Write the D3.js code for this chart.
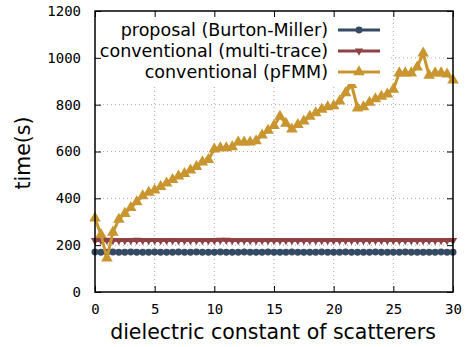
<!DOCTYPE html>
<html>
<head>
<meta charset="utf-8">
<script src="https://cdn.jsdelivr.net/npm/d3@7"></script>
<style>
  body { margin: 0; background: #fff; }
  svg text { fill: #000; }
</style>
</head>
<body>
<div id="chart"></div>
<script>
// dielectric constant (x) sampled every 0.5
let xValues = [0, 0.5, 1, 1.5, 2, 2.5, 3, 3.5, 4, 4.5, 5, 5.5, 6, 6.5, 7, 7.5, 8, 8.5, 9, 9.5,
               10, 10.5, 11, 11.5, 12, 12.5, 13, 13.5, 14, 14.5, 15, 15.5, 16, 16.5, 17, 17.5, 18, 18.5, 19, 19.5,
               20, 20.5, 21, 21.5, 22, 22.5, 23, 23.5, 24, 24.5, 25, 25.5, 26, 26.5, 27, 27.5, 28, 28.5, 29, 29.5, 30];

let burtonMiller = [171, 170, 170, 171, 170, 170, 171, 170, 170, 170, 171, 170, 170, 170, 171, 170, 170, 171, 170, 170,
                    170, 171, 170, 170, 170, 171, 170, 170, 170, 171, 170, 170, 170, 171, 170, 170, 170, 170, 171, 170,
                    170, 170, 171, 170, 170, 170, 170, 171, 170, 170, 170, 170, 171, 170, 170, 170, 170, 170, 171, 170, 170];

let multiTrace = [220, 220, 221, 220, 220, 220, 220, 221, 220, 220, 220, 220, 220, 220, 220, 220, 220, 220, 220, 220,
                  220, 221, 221, 220, 220, 220, 220, 220, 220, 220, 220, 220, 220, 220, 220, 220, 220, 220, 220, 220,
                  220, 220, 220, 220, 220, 220, 220, 220, 220, 220, 220, 220, 220, 220, 220, 220, 220, 220, 220, 220, 220];

let pFMM = [315, 245, 145, 255, 310, 335, 360, 385, 410, 425, 435, 450, 465, 480, 495, 505, 520, 535, 555, 565,
            610, 615, 615, 620, 640, 640, 640, 645, 670, 690, 710, 750, 720, 695, 715, 730, 750, 765, 780, 790,
            795, 815, 850, 885, 785, 790, 810, 825, 835, 845, 865, 935, 935, 935, 960, 1020, 925, 935, 935, 930, 905];

let seriesNames = ["proposal (Burton-Miller)", "conventional (multi-trace)", "conventional (pFMM)"];
let seriesColors = ["#354a63", "#8f4246", "#c9952f"];
let xTicks = [0, 5, 10, 15, 20, 25, 30];
let yTicks = [0, 200, 400, 600, 800, 1000, 1200];

let series = [
    {name: seriesNames[0], values: burtonMiller, color: seriesColors[0], symbol: d3.symbolCircle, size: 38, rotate: 0},
    {name: seriesNames[1], values: multiTrace, color: seriesColors[1], symbol: d3.symbolTriangle, size: 30, rotate: 180},
    {name: seriesNames[2], values: pFMM, color: seriesColors[2], symbol: d3.symbolTriangle, size: 58, rotate: 0}
];

let width = 474, height = 347;
let margin = {top: 11, right: 21, bottom: 55, left: 95};
let monoFont = "'DejaVu Sans Mono', monospace";
let sansFont = "'DejaVu Sans', sans-serif";

let svg = d3.select("#chart").append("svg")
    .attr("width", width)
    .attr("height", height);

let x = d3.scaleLinear().domain([0, 30]).range([margin.left, width - margin.right]);
let y = d3.scaleLinear().domain([0, 1200]).range([height - margin.bottom, margin.top]);

// grid
let grid = svg.append("g")
    .attr("stroke", "#aaa")
    .attr("stroke-width", 1)
    .attr("stroke-dasharray", "1,3");
grid.selectAll("line.gx")
    .data(xTicks.slice(1, -1))
    .enter().append("line")
    .attr("x1", d => x(d)).attr("x2", d => x(d))
    .attr("y1", y(0)).attr("y2", y(1200));
grid.selectAll("line.gy")
    .data(yTicks.slice(1, -1))
    .enter().append("line")
    .attr("y1", d => y(d)).attr("y2", d => y(d))
    .attr("x1", x(0)).attr("x2", x(30));

// series
let line = d3.line()
    .x((d, i) => x(xValues[i]))
    .y(d => y(d));

series.forEach(function(s){
    let g = svg.append("g");
    g.append("path")
        .attr("d", line(s.values))
        .attr("fill", "none")
        .attr("stroke", s.color)
        .attr("stroke-width", 3);
    g.selectAll("path.pt")
        .data(s.values)
        .enter().append("path")
        .attr("class", "pt")
        .attr("d", d3.symbol().type(s.symbol).size(s.size))
        .attr("fill", s.color)
        .attr("transform", (d, i) => "translate(" + x(xValues[i]) + "," + y(d) + ") rotate(" + s.rotate + ")");
});

// opaque key
let legend = svg.append("g");
legend.append("rect")
    .attr("x", x(0) + 1).attr("y", y(1200) + 1)
    .attr("width", 292).attr("height", 72)
    .attr("fill", "#fff");
series.forEach(function(s, i){
    let ly = 30 + i * 21;
    legend.append("text")
        .attr("x", 328).attr("y", ly)
        .attr("dy", "0.35em")
        .attr("text-anchor", "end")
        .style("font-family", sansFont)
        .style("font-size", "17.5px")
        .text(s.name);
    legend.append("line")
        .attr("x1", 338).attr("x2", 380)
        .attr("y1", ly).attr("y2", ly)
        .attr("stroke", s.color)
        .attr("stroke-width", 3);
    legend.append("path")
        .attr("d", d3.symbol().type(s.symbol).size(s.size))
        .attr("fill", s.color)
        .attr("transform", "translate(359," + ly + ") rotate(" + s.rotate + ")");
});

// axes with mirrored inward ticks
let tickFont = function(g){
    g.attr("font-family", null).attr("font-size", null);
    g.selectAll("text")
        .style("font-family", monoFont)
        .style("font-size", "14px");
    g.select(".domain").remove();
    g.selectAll(".tick line").attr("stroke", "#000").attr("stroke-width", 1);
};

svg.append("g")
    .attr("transform", "translate(0," + y(0) + ")")
    .call(d3.axisBottom(x).tickValues(xTicks).tickSize(-6).tickPadding(12).tickFormat(d3.format("d")))
    .call(tickFont);
svg.append("g")
    .attr("transform", "translate(" + x(0) + ",0)")
    .call(d3.axisLeft(y).tickValues(yTicks).tickSize(-6).tickPadding(14).tickFormat(d3.format("d")))
    .call(tickFont);
svg.append("g")
    .attr("transform", "translate(0," + y(1200) + ")")
    .call(d3.axisTop(x).tickValues(xTicks).tickSize(-6).tickFormat(""))
    .call(tickFont);
svg.append("g")
    .attr("transform", "translate(" + x(30) + ",0)")
    .call(d3.axisRight(y).tickValues(yTicks).tickSize(-6).tickFormat(""))
    .call(tickFont);

// border
svg.append("rect")
    .attr("x", x(0)).attr("y", y(1200))
    .attr("width", x(30) - x(0)).attr("height", y(0) - y(1200))
    .attr("fill", "none")
    .attr("stroke", "#000")
    .attr("stroke-width", 1.5);

// axis titles
svg.append("text")
    .attr("x", (x(0) + x(30)) / 2 - 1)
    .attr("y", 339)
    .attr("text-anchor", "middle")
    .style("font-family", sansFont)
    .style("font-size", "20.5px")
    .text("dielectric constant of scatterers");
svg.append("text")
    .attr("transform", "translate(30," + 153 + ") rotate(-90)")
    .attr("text-anchor", "middle")
    .style("font-family", sansFont)
    .style("font-size", "20.5px")
    .text("time(s)");
</script>
</body>
</html>
